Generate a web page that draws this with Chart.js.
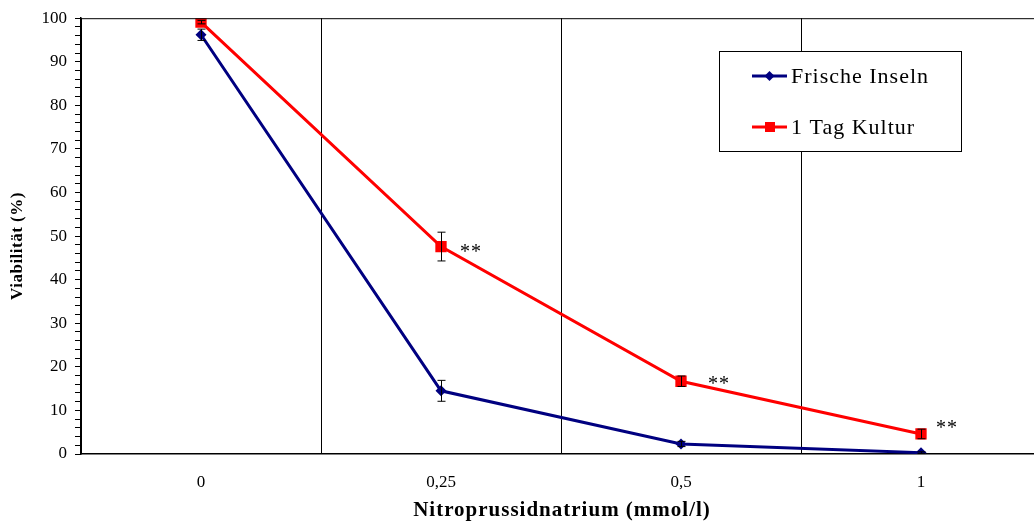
<!DOCTYPE html>
<html>
<head>
<meta charset="utf-8">
<script src="https://cdn.jsdelivr.net/npm/chart.js@4/dist/chart.umd.min.js"></script>
<style>
  html, body { margin: 0; padding: 0; background: #fff; overflow: hidden; }
  #wrap { width: 1050px; height: 523px; }
</style>
</head>
<body>
<div id="wrap"><canvas id="myChart" width="1050" height="523"></canvas></div>
<script>
// data
const labels = ['0', '0,25', '0,5', '1'];
const frische = [96.2, 14.5, 2.3, 0.3];
const frischeErr = [1.3, 2.4, 0.6, 0.2];
const kultur = [99.1, 47.6, 16.7, 4.6];
const kulturErr = [0.4, 3.3, 1.2, 1.1];
const marks = ['', '**', '**', '**'];
const xTitle = 'Nitroprussidnatrium (mmol/l)';
const yTitle = 'Viabilität (%)';

const serif = 'Liberation Serif, Times New Roman, serif';

// error bars, asterisks, axis titles, top border, legend box
const extras = {
  id: 'extras',
  afterDatasetsDraw(chart) {
    const ctx = chart.ctx;
    const x = chart.scales.x, y = chart.scales.y;
    const area = chart.chartArea;
    ctx.save();
    // top border
    ctx.strokeStyle = '#000';
    ctx.lineWidth = 1;
    ctx.beginPath();
    ctx.moveTo(area.left, area.top + 0.5);
    ctx.lineTo(area.right, area.top + 0.5);
    ctx.stroke();

    // error bars
    const bars = [[frische, frischeErr], [kultur, kulturErr]];
    bars.forEach(([vals, errs]) => {
      vals.forEach((v, i) => {
        const px = Math.round(x.getPixelForValue(i)) + 0.5;
        const y1 = y.getPixelForValue(v + errs[i]);
        const y2 = y.getPixelForValue(v - errs[i]);
        ctx.beginPath();
        ctx.moveTo(px, y1); ctx.lineTo(px, y2);
        ctx.moveTo(px - 4, y1); ctx.lineTo(px + 4, y1);
        ctx.moveTo(px - 4, y2); ctx.lineTo(px + 4, y2);
        ctx.stroke();
      });
    });

    // significance marks (offset from the point, px)
    const off = [[0, 0], [19, 1], [27, -1], [15, -10]];
    ctx.fillStyle = '#000';
    ctx.font = '20px ' + serif;
    ctx.letterSpacing = '1px';
    ctx.textBaseline = 'alphabetic';
    marks.forEach((m, i) => {
      if (!m) return;
      const px = x.getPixelForValue(i);
      const py = y.getPixelForValue(kultur[i]);
      ctx.fillText(m, px + off[i][0], py + off[i][1] + 10);
    });

    // axis titles
    ctx.textAlign = 'center';
    ctx.textBaseline = 'middle';
    ctx.font = 'bold 21px ' + serif;
    ctx.fillText(xTitle, (area.left + area.right) / 2 + 1, 511);
    ctx.save();
    ctx.translate(18, 246);
    ctx.rotate(-Math.PI / 2);
    ctx.font = 'bold 17px ' + serif;
    ctx.letterSpacing = '0.5px';
    ctx.fillText(yTitle, 0, 0);
    ctx.restore();
    ctx.textAlign = 'left';

    // legend box
    const lx = 719, ly = 51, lw = 242, lh = 100;
    ctx.fillStyle = '#fff';
    ctx.fillRect(lx, ly, lw, lh);
    ctx.strokeStyle = '#000';
    ctx.strokeRect(lx + 0.5, ly + 0.5, lw, lh);
    ctx.font = '22px ' + serif;
    ctx.letterSpacing = '1px';
    ctx.textBaseline = 'middle';
    chart.data.datasets.forEach((ds, i) => {
      const cy = ly + 25 + i * 51;
      ctx.strokeStyle = ds.borderColor;
      ctx.lineWidth = 3;
      ctx.beginPath();
      ctx.moveTo(752, cy); ctx.lineTo(787, cy);
      ctx.stroke();
      ctx.fillStyle = ds.borderColor;
      if (i === 0) {
        ctx.beginPath();
        ctx.moveTo(769.5, cy - 5); ctx.lineTo(774.5, cy);
        ctx.lineTo(769.5, cy + 5); ctx.lineTo(764.5, cy);
        ctx.closePath(); ctx.fill();
      } else {
        ctx.fillRect(765, cy - 5, 10, 10);
      }
      ctx.fillStyle = '#000';
      ctx.fillText(ds.label, 791, cy + 1);
    });
    ctx.restore();
  }
};

const data = {
  labels,
  datasets: [
    {
      label: 'Frische Inseln',
      data: frische,
      borderColor: '#000080',
      backgroundColor: '#000080',
      borderWidth: 3,
      pointStyle: 'rectRot',
      pointRadius: 5.5,
      pointBorderWidth: 0,
      tension: 0
    },
    {
      label: '1 Tag Kultur',
      data: kultur,
      borderColor: '#ff0000',
      backgroundColor: '#ff0000',
      borderWidth: 3,
      pointStyle: 'rect',
      pointRadius: 8,
      pointBorderWidth: 0,
      tension: 0
    }
  ]
};

const config = {
  type: 'line',
  data: data,
  options: {
    responsive: false,
    animation: false,
    layout: { padding: { top: 17, right: 9, left: 0, bottom: 0 } },
    plugins: {
      legend: { display: false },
      tooltip: { enabled: false }
    },
    scales: {
      x: {
        offset: true,
        afterFit: (s) => { s.height = 69; },
        grid: { offset: true, color: '#000', lineWidth: 1, drawTicks: false },
        border: { color: '#000', width: 1.5 },
        ticks: { color: '#000', font: { family: serif, size: 17 }, padding: 18 }
      },
      y: {
        min: 0,
        max: 100,
        afterFit: (s) => { s.width = 81; },
        grid: { drawOnChartArea: false, color: '#000', tickLength: 6 },
        border: { color: '#000', width: 1.5 },
        ticks: {
          stepSize: 2,
          autoSkip: false,
          color: '#000',
          font: { family: serif, size: 17 },
          padding: 8,
          callback: (v) => (v % 10 === 0 ? v : '')
        }
      }
    }
  },
  plugins: [extras]
};

const myChart = new Chart(document.getElementById('myChart'), config);
</script>
</body>
</html>
